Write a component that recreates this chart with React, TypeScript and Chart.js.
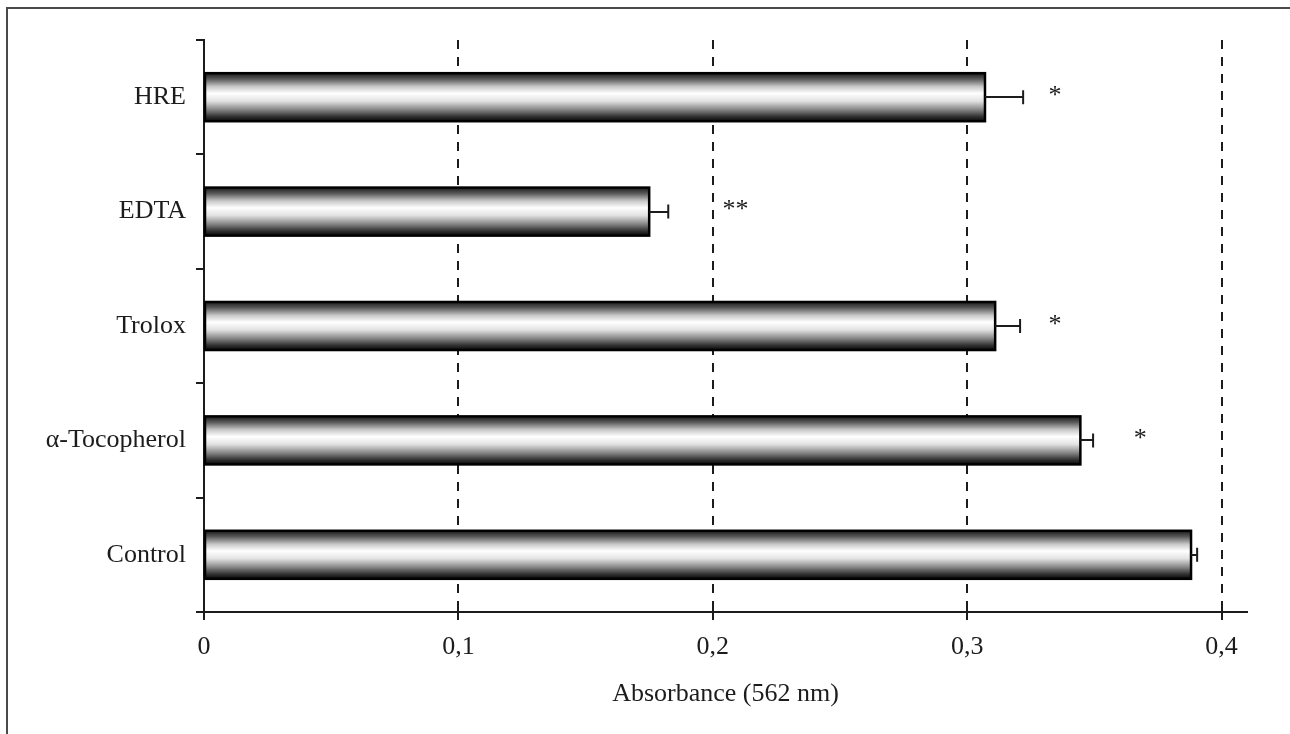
import React, { useEffect, useRef } from 'react';
import { Chart, registerables } from 'chart.js';

Chart.register(...registerables);

const categories = ['HRE', 'EDTA', 'Trolox', 'α-Tocopherol', 'Control'];
const absorbance = [0.307, 0.175, 0.311, 0.3445, 0.388];
const errors = [0.015, 0.0075, 0.0098, 0.005, 0.0024];
const stars = ['*', '**', '*', '*', ''];
const starPositions = [0.332, 0.2038, 0.332, 0.3655, 0];
const xTicks = [0, 0.1, 0.2, 0.3, 0.4];
const xTickLabels = ['0', '0,1', '0,2', '0,3', '0,4'];
const xAxisTitle = 'Absorbance (562 nm)';

const FONT = '"Liberation Serif", "Times New Roman", serif';
const INK = '#1c1c1c';
const FS = 26;

const drawPlugin = {
  id: 'customDraw',
  beforeDraw(chart: any) {
    const ctx = chart.ctx;
    ctx.save();
    ctx.fillStyle = '#ffffff';
    ctx.fillRect(0, 0, chart.width, chart.height);
    ctx.strokeStyle = '#4a4a4a';
    ctx.lineWidth = 2;
    ctx.strokeRect(7, 8, chart.width + 40, chart.height + 40);
    ctx.restore();
  },
  beforeDatasetsDraw(chart: any) {
    const { ctx, chartArea: a } = chart;
    const x = chart.scales.x;
    ctx.save();
    ctx.strokeStyle = INK;
    ctx.lineWidth = 2;
    ctx.setLineDash([9, 8]);
    xTicks.forEach((v) => {
      if (v === 0) return;
      const px = Math.round(x.getPixelForValue(v));
      ctx.beginPath();
      ctx.moveTo(px, a.top);
      ctx.lineTo(px, a.bottom);
      ctx.stroke();
    });
    ctx.setLineDash([]);
    xTicks.forEach((v) => {
      const px = Math.round(x.getPixelForValue(v));
      ctx.beginPath();
      ctx.moveTo(px, a.bottom - 7);
      ctx.lineTo(px, a.bottom);
      ctx.stroke();
    });
    ctx.restore();
  },
  afterDatasetsDraw(chart: any) {
    const { ctx } = chart;
    const x = chart.scales.x;
    const meta = chart.getDatasetMeta(0);
    ctx.save();
    meta.data.forEach((el: any, i: number) => {
      const p = el.getProps(['x', 'y', 'base', 'height'], true);
      const top = p.y - p.height / 2;
      const w = p.x - p.base;
      const g = ctx.createLinearGradient(0, top, 0, top + p.height);
      g.addColorStop(0, '#1a1a1a');
      g.addColorStop(0.12, '#585858');
      g.addColorStop(0.28, '#c8c8c8');
      g.addColorStop(0.42, '#ffffff');
      g.addColorStop(0.58, '#e2e2e2');
      g.addColorStop(0.76, '#858585');
      g.addColorStop(0.9, '#333333');
      g.addColorStop(1, '#080808');
      ctx.fillStyle = g;
      ctx.fillRect(p.base, top, w, p.height);
      ctx.strokeStyle = '#000';
      ctx.lineWidth = 2.5;
      ctx.strokeRect(p.base, top, w, p.height);

      const ex = x.getPixelForValue(absorbance[i] + errors[i]);
      ctx.lineWidth = 2;
      ctx.strokeStyle = INK;
      ctx.beginPath();
      ctx.moveTo(p.x, Math.round(p.y));
      ctx.lineTo(ex, Math.round(p.y));
      ctx.moveTo(ex, p.y - 7);
      ctx.lineTo(ex, p.y + 7);
      ctx.stroke();

      if (stars[i]) {
        ctx.fillStyle = INK;
        ctx.font = `${FS}px ${FONT}`;
        ctx.textAlign = 'left';
        ctx.textBaseline = 'middle';
        ctx.fillText(stars[i], x.getPixelForValue(starPositions[i]), p.y - 1);
      }
    });
    ctx.restore();
  },
};

export default function App() {
  const canvasRef = useRef<HTMLCanvasElement | null>(null);

  useEffect(() => {
    if (!canvasRef.current) return;
    const chart = new Chart(canvasRef.current, {
      type: 'bar',
      data: {
        labels: categories,
        datasets: [
          {
            label: 'Absorbance',
            data: absorbance,
            backgroundColor: '#999999',
            borderWidth: 0,
            barPercentage: 0.42,
            categoryPercentage: 1,
          },
        ],
      },
      options: {
        indexAxis: 'y',
        animation: false,
        responsive: true,
        maintainAspectRatio: false,
        layout: { padding: { top: 40, right: 43, left: 0, bottom: 0 } },
        plugins: {
          legend: { display: false },
          tooltip: { enabled: false },
        },
        scales: {
          x: {
            type: 'linear',
            min: 0,
            max: 0.41,
            afterBuildTicks: (s: any) => {
              s.ticks = xTicks.map((v) => ({ value: v }));
            },
            ticks: {
              color: INK,
              font: { family: FONT, size: FS },
              padding: 12,
              maxRotation: 0,
              callback: (v: any) => {
                const idx = xTicks.findIndex((t) => Math.abs(t - Number(v)) < 1e-9);
                return idx >= 0 ? xTickLabels[idx] : '';
              },
            },
            grid: { drawOnChartArea: false, tickLength: 8, color: INK, lineWidth: 2 },
            border: { display: true, color: INK, width: 2 },
            title: {
              display: true,
              text: xAxisTitle,
              color: INK,
              font: { family: FONT, size: FS },
              padding: { top: 24, bottom: 24 },
            },
            afterFit: (s: any) => {
              s.height = 122;
            },
          },
          y: {
            type: 'category',
            grid: {
              drawOnChartArea: false,
              offset: true,
              tickLength: 8,
              color: INK,
              lineWidth: 2,
            },
            border: { display: true, color: INK, width: 2 },
            ticks: { color: INK, font: { family: FONT, size: FS }, padding: 10 },
            afterFit: (s: any) => {
              s.width = 204;
            },
          },
        },
      },
      plugins: [drawPlugin],
    } as any);
    return () => chart.destroy();
  }, []);

  return (
    <div
      style={{
        position: 'fixed',
        left: 0,
        top: 0,
        width: '1290px',
        height: '734px',
        background: '#fff',
      }}
    >
      <canvas ref={canvasRef} />
    </div>
  );
}
